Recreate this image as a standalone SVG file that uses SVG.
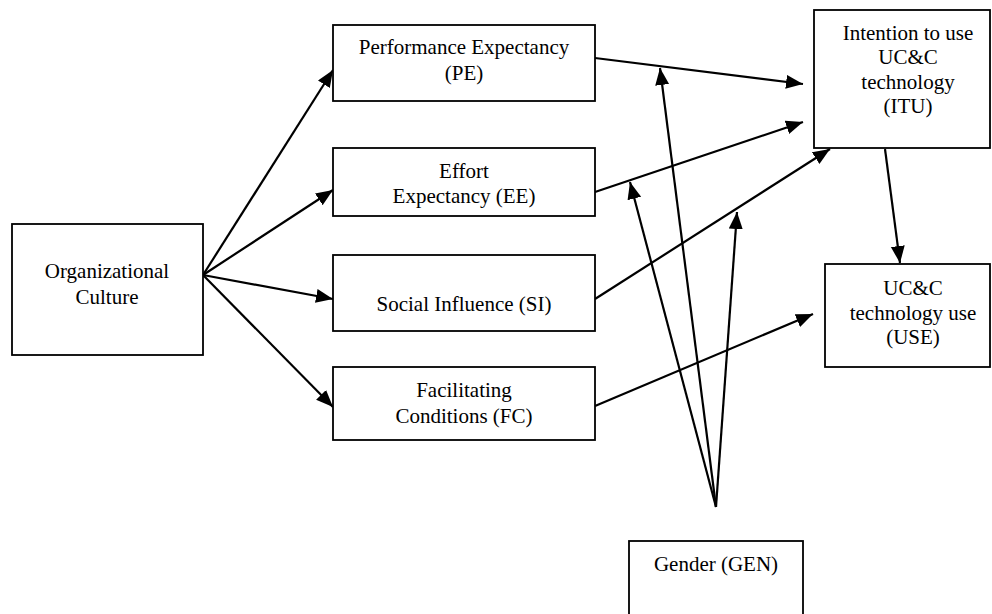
<svg xmlns="http://www.w3.org/2000/svg" width="992" height="614" viewBox="0 0 992 614">
<style>
.box{fill:#fff;stroke:#000;stroke-width:1.8}
.t{font-family:'Liberation Serif','Times New Roman',Tinos,'DejaVu Serif',serif;font-size:21px;fill:#000;text-anchor:middle}
.c{stroke:#000;stroke-width:2.2;fill:none;marker-end:url(#ah)}
</style>
<defs>
<marker id="ah" markerUnits="userSpaceOnUse" markerWidth="20" markerHeight="16" refX="17" refY="7" orient="auto">
<path d="M0,0 L17,7 L0,14 Z" fill="#000"/>
</marker>
</defs>
<rect width="992" height="614" fill="#fff"/>
<g id="connectors">
<line class="c" x1="203" y1="275" x2="333" y2="70"/>
<line class="c" x1="203" y1="275" x2="333" y2="190"/>
<line class="c" x1="203" y1="275" x2="333" y2="299"/>
<line class="c" x1="203" y1="275" x2="333" y2="407"/>
<line class="c" x1="595" y1="58" x2="803" y2="84"/>
<line class="c" x1="595" y1="192" x2="803" y2="122"/>
<line class="c" x1="595" y1="299" x2="830" y2="149"/>
<line class="c" x1="595" y1="406" x2="813" y2="314"/>
<line class="c" x1="885" y1="149" x2="900" y2="263"/>
<line class="c" x1="716" y1="507" x2="660" y2="68"/>
<line class="c" x1="716" y1="507" x2="630" y2="182"/>
<line class="c" x1="716" y1="507" x2="737" y2="212"/>
</g>
<g id="org">
<rect class="box" x="12" y="224" width="191" height="131"/>
<text class="t" x="107" y="278" font-family="Liberation Serif, serif">Organizational</text>
<text class="t" x="107" y="304" font-family="Liberation Serif, serif">Culture</text>
</g>
<g id="pe">
<rect class="box" x="333" y="25" width="262" height="76"/>
<text class="t" x="464" y="54">Performance Expectancy</text>
<text class="t" x="464" y="80">(PE)</text>
</g>
<g id="ee">
<rect class="box" x="333" y="148" width="262" height="68"/>
<text class="t" x="464" y="178">Effort</text>
<text class="t" x="464" y="203">Expectancy (EE)</text>
</g>
<g id="si">
<rect class="box" x="333" y="255" width="262" height="76"/>
<text class="t" x="464" y="311">Social Influence (SI)</text>
</g>
<g id="fc">
<rect class="box" x="333" y="367" width="262" height="73"/>
<text class="t" x="464" y="397">Facilitating</text>
<text class="t" x="464" y="423">Conditions (FC)</text>
</g>
<g id="itu">
<rect class="box" x="814" y="10" width="176" height="138"/>
<text class="t" x="908" y="40">Intention to use</text>
<text class="t" x="908" y="64">UC&amp;C</text>
<text class="t" x="908" y="89">technology</text>
<text class="t" x="908" y="113">(ITU)</text>
</g>
<g id="use">
<rect class="box" x="825" y="264" width="165" height="103"/>
<text class="t" x="913" y="295">UC&amp;C</text>
<text class="t" x="913" y="320">technology use</text>
<text class="t" x="913" y="344">(USE)</text>
</g>
<g id="gen">
<rect class="box" x="629" y="541" width="174" height="90"/>
<text class="t" x="716" y="571">Gender (GEN)</text>
</g>
</svg>
